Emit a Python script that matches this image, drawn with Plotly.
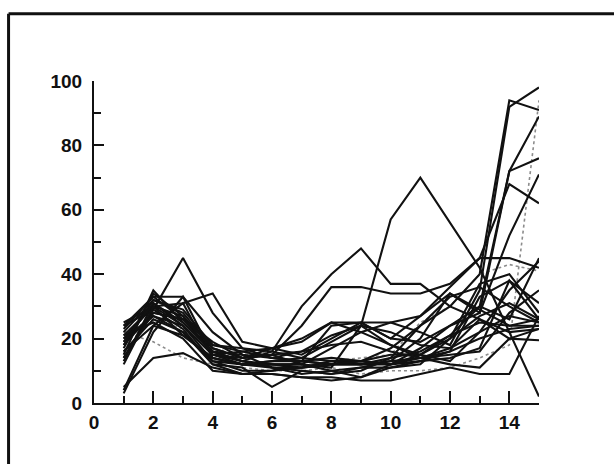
import plotly.graph_objects as go

# Sampling positions shared by every profile
positions = list(range(1, 16))

# Individual profiles (value at positions 1..15)
profiles = [
    [20, 30, 27, 17, 14, 15, 12, 11, 24, 57, 70, 56, 42, 22, 2],
    [18, 28, 26, 16, 13, 16, 30, 40, 48, 37, 37, 30, 26, 22, 23],
    [22, 32, 28, 17, 14, 15, 24, 36, 36, 34, 34, 37, 45, 45, 42],
    [24, 29, 45, 28, 17, 16, 14, 13, 12, 12, 13, 16, 33, 38, 31],
    [23, 33, 33, 22, 15, 14, 13, 14, 13, 17, 24, 30, 40, 94, 91],
    [21, 30, 31, 34, 19, 17, 15, 20, 25, 25, 22, 18, 35, 92, 98],
    [4, 24, 31, 14, 12, 12, 11, 12, 12, 14, 16, 21, 30, 72, 89],
    [3, 22, 33, 15, 13, 11, 10, 9, 11, 13, 20, 34, 28, 72, 76],
    [5, 14, 15.5, 11, 9, 9, 8, 8, 7, 7, 9, 11, 9, 9, 27],
    [15, 35, 25, 16, 13, 12, 12, 17, 22, 25, 27, 36, 45, 68, 62],
    [17, 34, 27, 15, 12, 11, 11, 13, 13, 12, 17, 24, 28, 52, 71],
    [13, 31, 24, 13, 12, 13, 14, 19, 24, 22, 18, 17, 26, 20, 19.5],
    [19, 27, 22, 13, 10, 10, 13, 12, 13, 15, 15, 21, 25, 24, 26],
    [25, 30, 24, 15, 14, 17, 19, 25, 25, 20, 19, 24, 30, 26, 45],
    [16, 26, 22, 12, 9, 10, 11, 12, 12, 13, 14, 16, 20, 23, 24],
    [14, 29, 23, 12, 11, 5, 10, 9, 10, 14, 24, 33, 36, 30, 25],
    [21, 25, 20, 10, 9, 9, 8, 7, 8, 11, 13, 14, 17, 38, 26],
    [18, 32, 29, 18, 16, 17, 20, 25, 22, 18, 15, 13, 22, 35, 44],
    [20, 27, 24, 15, 16, 14, 13, 24, 25, 20, 27, 34, 29, 24, 24],
    [12, 30, 21, 14, 12, 12, 12, 10, 11, 11, 12, 20, 37, 40, 28],
    [24, 33, 26, 19, 14, 15, 16, 21, 24, 18, 14, 12, 11, 20, 23],
    [16, 24, 21, 14, 12, 13, 13, 12, 13, 12, 14, 15, 16, 28, 35],
    [19, 31, 25, 16, 15, 11, 9, 10, 8, 12, 15, 20, 27, 31, 26],
    [14, 28, 26, 18, 17, 14, 16, 18, 19, 16, 14, 17, 22, 27, 25],
]

# Profiles drawn in grey broken lines
grey_profiles = [
    [22, 19, 14, 12, 11, 10, 10, 11, 9, 10, 10, 11, 14, 18, 94],
    [22, 26, 23, 17, 15, 16, 14, 13, 14, 15, 25, 30, 40, 43, 41],
]

x_ticks = [0, 2, 4, 6, 8, 10, 12, 14]
y_ticks = [0, 20, 40, 60, 80, 100]

fig = go.Figure()

for ys in grey_profiles:
    fig.add_trace(go.Scatter(
        x=positions, y=ys, mode="lines",
        line=dict(color="#8c8c8c", width=1.6, dash="dot"),
        showlegend=False, hoverinfo="skip",
    ))

for ys in profiles:
    fig.add_trace(go.Scatter(
        x=positions, y=ys, mode="lines",
        line=dict(color="#111111", width=2.1),
        showlegend=False, hoverinfo="skip",
    ))

tick_font = dict(family="Liberation Sans, Arial, sans-serif", size=19, color="#111111", weight="bold")

fig.update_xaxes(
    range=[0, 15], tickvals=x_ticks, ticktext=[str(v) for v in x_ticks],
    showgrid=False, zeroline=False,
    showline=True, linecolor="#111111", linewidth=2,
    ticks="inside", ticklen=12, tickwidth=2, tickcolor="#111111",
    minor=dict(ticks="inside", ticklen=7, tickwidth=2, tickcolor="#111111", dtick=1, tick0=0, showgrid=False),
    tickfont=tick_font, ticklabelstandoff=1,
)
fig.update_yaxes(
    range=[0, 100], tickvals=y_ticks, ticktext=[str(v) for v in y_ticks],
    showgrid=False, zeroline=False,
    showline=True, linecolor="#111111", linewidth=2,
    ticks="inside", ticklen=10, tickwidth=2, tickcolor="#111111",
    minor=dict(ticks="inside", ticklen=7, tickwidth=2, tickcolor="#111111", dtick=10, tick0=0, showgrid=False),
    tickfont=tick_font, ticklabelstandoff=6,
)

# Outer frame around the whole figure
frame = dict(type="line", xref="paper", yref="paper", line=dict(color="#111111", width=3))
fig.update_layout(
    width=614, height=464,
    margin=dict(l=94, r=75, t=81, b=61, pad=0),
    paper_bgcolor="white", plot_bgcolor="white",
    shapes=[
        dict(frame, x0=-0.192, x1=1.2, y0=1.2085, y1=1.2085),
        dict(frame, x0=-0.192, x1=-0.192, y0=1.2085, y1=-0.25),
    ],
)

fig.write_html("out.html")
